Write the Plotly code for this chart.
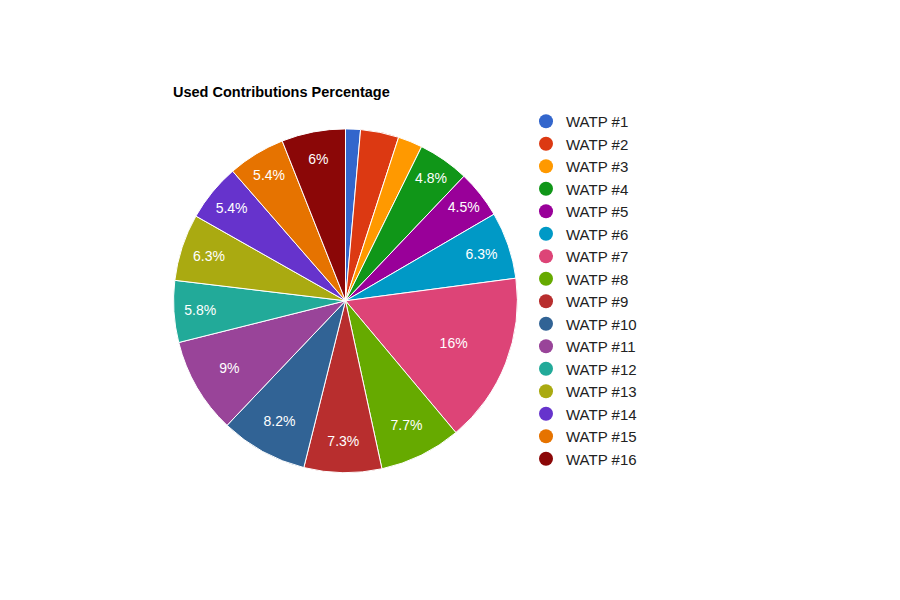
import plotly.graph_objects as go

labels = [f"WATP #{i}" for i in range(1, 17)]
values = [1.4, 3.6, 2.3, 4.8, 4.5, 6.3, 16, 7.7, 7.3, 8.2, 9, 5.8, 6.3, 5.4, 5.4, 6]
colors = ["#3366cc", "#dc3912", "#ff9900", "#109618", "#990099", "#0099c6", "#dd4477",
          "#66aa00", "#b82e2e", "#316395", "#994499", "#22aa99", "#aaaa11", "#6633cc",
          "#e67300", "#8b0707"]

total = sum(values)
texts = [(f"{v / total * 100:.2g}%" if v / total >= 0.04 else "") for v in values]

fig = go.Figure()
fig.add_trace(go.Pie(labels=labels, values=values, text=texts, textinfo="text",
                     textposition="inside", insidetextorientation="horizontal",
                     sort=False, direction="clockwise", rotation=0,
                     marker=dict(colors=colors, line=dict(color="white", width=1)),
                     textfont=dict(color="white", size=14, family="Arial"),
                     showlegend=False, hoverinfo="label+percent",
                     domain=dict(x=[0.184, 0.566], y=[0.225, 0.799])))
for lab, c in zip(labels, colors):
    fig.add_trace(go.Scatter(x=[None], y=[None], mode="markers", name=lab,
                             marker=dict(color=c, size=14, symbol="circle")))

fig.update_layout(
    width=900, height=600, margin=dict(l=0, r=0, t=0, b=0),
    paper_bgcolor="white", plot_bgcolor="white",
    xaxis=dict(visible=False), yaxis=dict(visible=False),
    font=dict(family="Arial", size=13, color="#222222"),
    title=dict(text="<b>Used Contributions Percentage</b>", x=165/900, xanchor="left",
               y=1-84/600, yanchor="middle", pad=dict(l=0, r=0, t=0, b=0),
               font=dict(size=14.5, color="black", family="Arial")),
    legend=dict(x=518/900, y=1-97/600, xanchor="left", yanchor="top",
                font=dict(size=15, family="Arial", color="#222222"),
                tracegroupgap=0, itemwidth=30, bgcolor="rgba(0,0,0,0)"),
)
fig.write_html("out.html")
